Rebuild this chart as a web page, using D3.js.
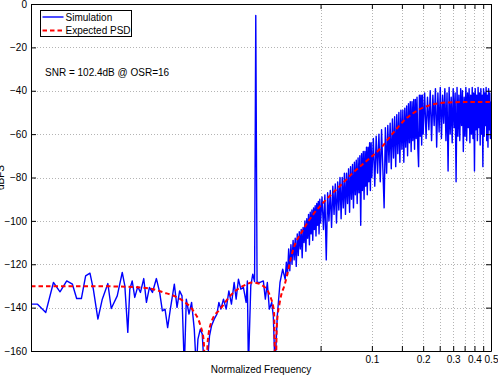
<!DOCTYPE html>
<html>
<head>
<meta charset="utf-8">
<script src="https://cdn.jsdelivr.net/npm/d3@7"></script>
<style>
  body { margin: 0; background: #fff; }
  text { font-family: "Liberation Sans", Arial, Helvetica, sans-serif; }
</style>
</head>
<body>
<div id="chart"></div>
<script>
// Simulated PSD, low band (sparse bins) : [normalized frequency, dBFS]
let simLow = [
  [0.001000, -138.4], [0.001092, -138.4], [0.001221, -142.2], [0.001354, -128.4],
  [0.001480, -132.7], [0.001620, -127.7], [0.001750, -129.2], [0.001853, -135.8],
  [0.001975, -135.8], [0.002092, -125.4], [0.002218, -124.1], [0.002321, -131.5],
  [0.002469, -145.3], [0.002620, -136.1], [0.002825, -128.9], [0.002957, -140.4],
  [0.003206, -134.6], [0.003431, -123.8], [0.003553, -130.0], [0.003698, -151.4],
  [0.003799, -131.5], [0.003924, -127.7], [0.004063, -135.3], [0.004231, -130.3],
  [0.004388, -133.0], [0.004587, -126.6], [0.004757, -137.6], [0.004953, -130.7],
  [0.005158, -133.0], [0.005442, -126.6], [0.005688, -133.0], [0.005899, -141.5],
  [0.006117, -140.7], [0.006335, -149.2], [0.006570, -140.7], [0.006934, -129.2],
  [0.007191, -139.9], [0.007447, -132.3], [0.007691, -134.6], [0.007934, -168.0],
  [0.008151, -136.1], [0.008453, -143.0], [0.008754, -137.6], [0.009077, -149.9],
  [0.009325, -168.0], [0.009540, -154.5], [0.009841, -150.0], [0.010107, -152.2],
  [0.010383, -168.0], [0.010772, -168.0], [0.011155, -153.0], [0.011460, -148.4],
  [0.011884, -145.3], [0.012324, -143.0], [0.012661, -137.6], [0.013006, -140.7],
  [0.013469, -136.1], [0.013968, -140.7], [0.014486, -132.3], [0.015002, -138.4],
  [0.015558, -128.4], [0.015983, -136.1], [0.016484, -126.9], [0.017028, -131.5],
  [0.017635, -130.7], [0.018287, -137.6], [0.018600, -127.7], [0.018860, -168.0],
  [0.019478, -130.0], [0.020009, -124.6], [0.020500, -128.0], [0.020836, -5.3],
  [0.021204, -128.4], [0.022079, -128.4], [0.023080, -127.7], [0.023712, -136.1],
  [0.024359, -128.4], [0.025025, -140.7], [0.025846, -137.6], [0.026407, -143.8],
  [0.027016, -168.0], [0.027870, -143.8], [0.028905, -128.4], [0.029979, -122.3]
];

// Simulated PSD, shaped noise band (dense bins)
let simHigh = [
  [0.0310, -127], [0.0315, -119], [0.0320, -125], [0.0325, -113], [0.0330, -123],
  [0.0335, -111], [0.0340, -120], [0.0345, -109], [0.0350, -118], [0.0355, -108],
  [0.0360, -121], [0.0365, -106], [0.0370, -116], [0.0375, -105], [0.0380, -113],
  [0.0385, -104], [0.0390, -117], [0.0395, -103], [0.0400, -110], [0.0405, -100],
  [0.0410, -114], [0.0415, -99], [0.0420, -108], [0.0425, -97], [0.0430, -111],
  [0.0435, -96], [0.0440, -106], [0.0445, -95], [0.0450, -109], [0.0455, -94],
  [0.0460, -104], [0.0465, -93], [0.0470, -107], [0.0475, -92], [0.0480, -102],
  [0.0485, -91], [0.0490, -106], [0.0495, -90], [0.0500, -101],
  [0.051, -89], [0.052, -104], [0.053, -88], [0.054, -118], [0.055, -87],
  [0.056, -100], [0.057, -86], [0.058, -103], [0.059, -84], [0.060, -97],
  [0.061, -83], [0.062, -101], [0.063, -82], [0.064, -95], [0.065, -80],
  [0.066, -99], [0.067, -80], [0.068, -94], [0.069, -78], [0.070, -97],
  [0.071, -78], [0.072, -92], [0.073, -76], [0.074, -96], [0.075, -75],
  [0.076, -90], [0.077, -74], [0.078, -94], [0.079, -73], [0.080, -88],
  [0.081, -72], [0.082, -92], [0.083, -71], [0.084, -87], [0.085, -70],
  [0.086, -102], [0.087, -69], [0.088, -86], [0.089, -68], [0.090, -90],
  [0.091, -68], [0.092, -84], [0.093, -66], [0.094, -88], [0.095, -66],
  [0.096, -82], [0.097, -64], [0.098, -86], [0.099, -64], [0.100, -80],
  [0.102, -62], [0.104, -84], [0.106, -61], [0.108, -78], [0.110, -60],
  [0.112, -82], [0.114, -58], [0.116, -76], [0.118, -94], [0.120, -57],
  [0.122, -78], [0.124, -56], [0.126, -73], [0.128, -55], [0.130, -76],
  [0.132, -53], [0.134, -71], [0.136, -52], [0.138, -75], [0.140, -51],
  [0.142, -69], [0.144, -50], [0.146, -73], [0.148, -49], [0.150, -67],
  [0.152, -49], [0.154, -73], [0.156, -48], [0.158, -66], [0.160, -47],
  [0.162, -70], [0.164, -46], [0.166, -64], [0.168, -45], [0.170, -68],
  [0.172, -45], [0.174, -63], [0.176, -44], [0.178, -67], [0.180, -44],
  [0.182, -62], [0.184, -43], [0.186, -66], [0.188, -75], [0.190, -42],
  [0.192, -61], [0.194, -42], [0.196, -65], [0.198, -42], [0.200, -60],
  [0.204, -41], [0.208, -62], [0.212, -43], [0.216, -58], [0.220, -40],
  [0.224, -63], [0.228, -42], [0.232, -56], [0.236, -39], [0.240, -66],
  [0.244, -41], [0.248, -59], [0.252, -38.5], [0.256, -62], [0.260, -42],
  [0.264, -55], [0.268, -39], [0.272, -63], [0.276, -41], [0.280, -77],
  [0.284, -38.5], [0.288, -60], [0.292, -43], [0.296, -64], [0.300, -39],
  [0.304, -57], [0.308, -41], [0.312, -82], [0.316, -38.5], [0.320, -61],
  [0.324, -42], [0.328, -63], [0.332, -39], [0.336, -56], [0.340, -40],
  [0.344, -68], [0.348, -43], [0.352, -61], [0.356, -38.5], [0.360, -63],
  [0.364, -41], [0.368, -57], [0.372, -39], [0.376, -64], [0.380, -42],
  [0.384, -60], [0.388, -38.5], [0.392, -62], [0.396, -41], [0.400, -77],
  [0.404, -39], [0.408, -58], [0.412, -42], [0.416, -63], [0.420, -38.5],
  [0.424, -57], [0.428, -41], [0.432, -65], [0.436, -39], [0.440, -60],
  [0.444, -42], [0.448, -75], [0.452, -39], [0.456, -61], [0.460, -41],
  [0.464, -56], [0.468, -38.5], [0.472, -63], [0.476, -42], [0.480, -66],
  [0.484, -39], [0.488, -58], [0.492, -41], [0.496, -62], [0.500, -45]
];

// Expected PSD from the NTF
let expectedPsd = [
  [0.001, -130.1], [0.002, -130.1], [0.003, -130.2], [0.004, -130.5],
  [0.005, -131.2], [0.006, -133.0], [0.007, -134.8], [0.00783, -137.0],
  [0.00896, -141.5], [0.00984, -148.0], [0.0103, -155.0], [0.0106, -175.0],
  [0.0109, -155.0], [0.01152, -146.0], [0.01289, -140.7], [0.01474, -134.6],
  [0.01757, -130.0], [0.02009, -128.4], [0.02299, -130.0], [0.02526, -134.6],
  [0.02666, -142.0], [0.0272, -175.0], [0.0277, -148.0], [0.0289, -137.0],
  [0.0309, -129.0], [0.0346, -113.0], [0.0396, -104.0], [0.0453, -97.0],
  [0.0542, -90.0], [0.0648, -84.0], [0.0775, -77.8], [0.0929, -72.4],
  [0.111, -67.0], [0.133, -59.5], [0.159, -52.8], [0.190, -48.6],
  [0.238, -46.0], [0.298, -45.3], [0.400, -45.2], [0.500, -45.2]
];

let xDomain = [0.001, 0.5];
let yDomain = [-160, 0];
let xTickValues = [0.05, 0.1, 0.15, 0.2, 0.25, 0.3, 0.35, 0.4, 0.45, 0.5];
let xLabelValues = [0.1, 0.2, 0.3, 0.4, 0.5];
let yTickValues = [-160, -140, -120, -100, -80, -60, -40, -20, 0];
let legendLabels = ["Simulation", "Expected PSD"];
let snrLabel = "SNR = 102.4dB @ OSR=16";
let xTitle = "Normalized Frequency";
let yTitle = "dBFS";

let svgWidth = 498;
let svgHeight = 375;
let margin = { top: 4, right: 7, bottom: 24, left: 31 };
let width = svgWidth - margin.left - margin.right;
let height = svgHeight - margin.top - margin.bottom;
let fontFamily = '"Liberation Sans", Arial, Helvetica, sans-serif';

let svg = d3.select("#chart").append("svg")
  .attr("width", svgWidth)
  .attr("height", svgHeight)
  .style("background", "#fff");
let chartGroup = svg.append("g").attr("transform", `translate(${margin.left}, ${margin.top})`);

let xScale = d3.scaleLog().domain(xDomain).range([0, width]);
let yScale = d3.scaleLinear().domain(yDomain).range([height, 0]);

// Grid =========================
let gridGroup = chartGroup.append("g");
let px = v => Math.round(v) + 0.5;

gridGroup.selectAll("line.hgrid")
  .data(yTickValues.filter(d => d > yDomain[0] && d < yDomain[1]))
  .enter()
  .append("line")
  .attr("x1", 0)
  .attr("x2", width)
  .attr("y1", d => px(yScale(d)))
  .attr("y2", d => px(yScale(d)))
  .attr("stroke", "#b4b4b4")
  .attr("stroke-dasharray", "1,2");

gridGroup.selectAll("line.vgrid")
  .data(xTickValues.filter(d => d < xDomain[1]))
  .enter()
  .append("line")
  .attr("x1", d => px(xScale(d)))
  .attr("x2", d => px(xScale(d)))
  .attr("y1", 0)
  .attr("y2", height)
  .attr("stroke", "#b4b4b4")
  .attr("stroke-dasharray", "1,2");

// Lines ========================
svg.append("defs").append("clipPath")
  .attr("id", "plotClip")
  .append("rect")
  .attr("x", 0)
  .attr("y", 0)
  .attr("width", width + 1)
  .attr("height", height + 1);

let lineGen = d3.line()
  .x(d => xScale(d[0]))
  .y(d => yScale(d[1]));

let plotGroup = chartGroup.append("g").attr("clip-path", "url(#plotClip)");

plotGroup.append("path")
  .datum(simLow.concat(simHigh))
  .attr("d", lineGen)
  .attr("fill", "none")
  .attr("stroke", "#0000ff")
  .attr("stroke-width", 1.4)
  .attr("stroke-linejoin", "round");

plotGroup.append("path")
  .datum(expectedPsd)
  .attr("d", lineGen.curve(d3.curveMonotoneX))
  .attr("fill", "none")
  .attr("stroke", "#ff0000")
  .attr("stroke-width", 2)
  .attr("stroke-dasharray", "4.5,3");

// Axes =========================
let fmtY = d => d < 0 ? "\u2212" + Math.abs(d) : String(d);

let styleAxis = g => {
  g.attr("font-family", fontFamily).attr("font-size", 10);
  g.selectAll("text").attr("fill", "#000");
};

chartGroup.append("g")
  .attr("transform", `translate(0, ${height})`)
  .call(d3.axisBottom(xScale)
    .tickValues(xTickValues)
    .tickFormat(d => xLabelValues.includes(d) ? String(d) : "")
    .tickSizeInner(-5)
    .tickSizeOuter(0)
    .tickPadding(5))
  .call(styleAxis);

chartGroup.append("g")
  .call(d3.axisTop(xScale)
    .tickValues(xTickValues)
    .tickFormat(() => "")
    .tickSizeInner(-5)
    .tickSizeOuter(0))
  .call(styleAxis);

chartGroup.append("g")
  .call(d3.axisLeft(yScale)
    .tickValues(yTickValues)
    .tickFormat(fmtY)
    .tickSizeInner(-5)
    .tickSizeOuter(0)
    .tickPadding(4))
  .call(styleAxis);

chartGroup.append("g")
  .attr("transform", `translate(${width}, 0)`)
  .call(d3.axisRight(yScale)
    .tickValues(yTickValues)
    .tickFormat(() => "")
    .tickSizeInner(-5)
    .tickSizeOuter(0))
  .call(styleAxis);

// Titles =======================
svg.append("text")
  .attr("x", margin.left + width / 2)
  .attr("y", 373)
  .attr("text-anchor", "middle")
  .attr("font-size", 10)
  .text(xTitle);

svg.append("text")
  .attr("transform", `translate(3.5, ${margin.top + height / 2}) rotate(-90)`)
  .attr("text-anchor", "middle")
  .attr("font-size", 10)
  .text(yTitle);

svg.append("text")
  .attr("x", 45)
  .attr("y", 75.5)
  .attr("font-size", 10)
  .text(snrLabel);

// Legend =======================
let legend = svg.append("g").attr("transform", "translate(40.5, 10.5)");
legend.append("rect")
  .attr("width", 91)
  .attr("height", 26)
  .attr("fill", "#fff")
  .attr("stroke", "#000");

let legendStyles = [
  { color: "#0000ff", dash: null, width: 1.4 },
  { color: "#ff0000", dash: "4.5,3", width: 2 }
];

legendLabels.forEach((label, i) => {
  let yy = 6.5 + i * 13.5;
  legend.append("line")
    .attr("x1", 2)
    .attr("x2", 23)
    .attr("y1", yy)
    .attr("y2", yy)
    .attr("stroke", legendStyles[i].color)
    .attr("stroke-width", legendStyles[i].width)
    .attr("stroke-dasharray", legendStyles[i].dash);
  legend.append("text")
    .attr("x", 25)
    .attr("y", yy + 3.5)
    .attr("font-size", 10)
    .text(label);
});
</script>
</body>
</html>
